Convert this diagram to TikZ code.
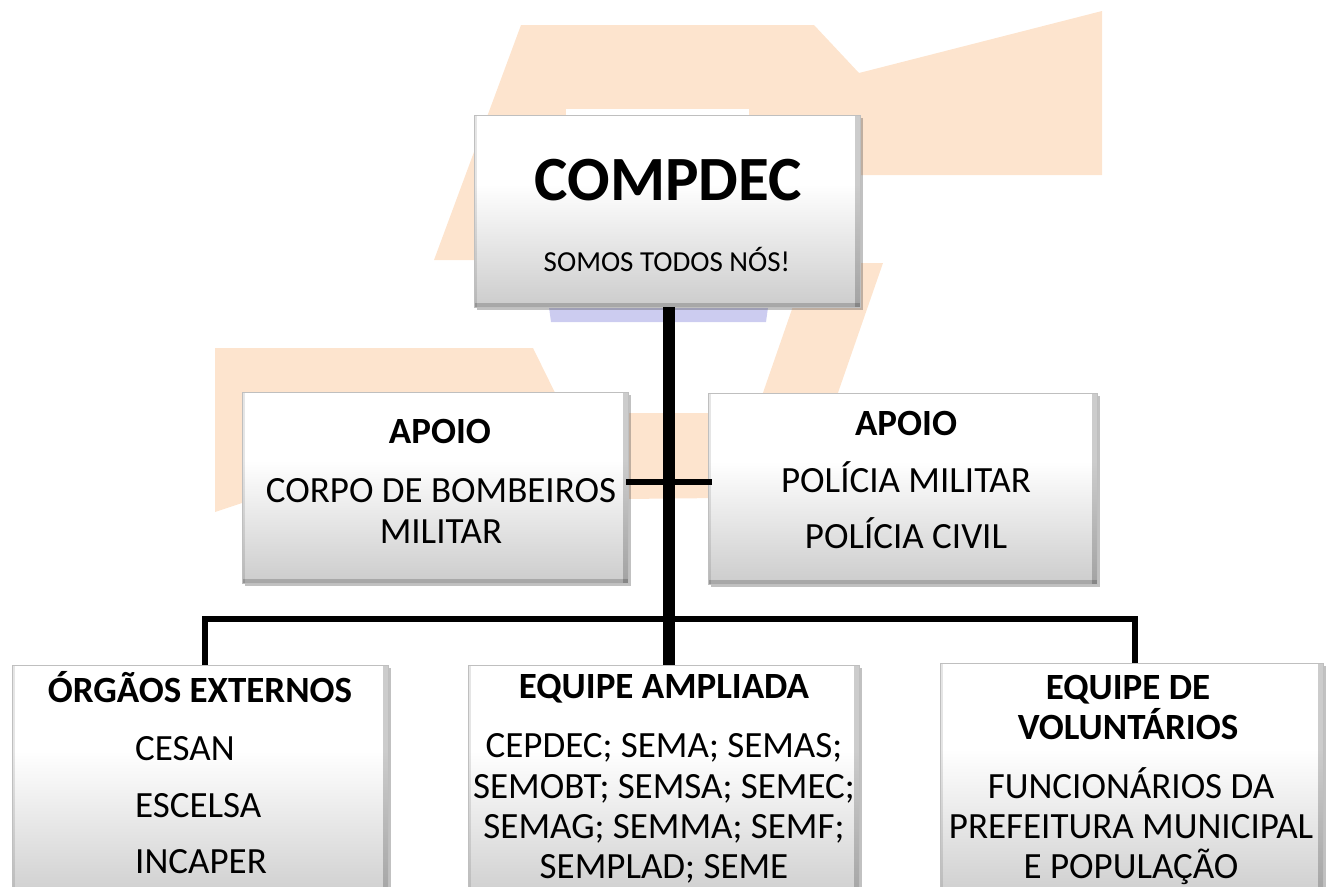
\documentclass[tikz,border=0pt]{standalone}
\usepackage{fontspec}
\setmainfont{Carlito}
\usetikzlibrary{shadows}
\definecolor{bgorange}{RGB}{253,228,206}
\definecolor{bglav}{RGB}{204,204,240}
\definecolor{boxbot}{RGB}{204,204,204}
\pgfdeclareverticalshading{boxshade}{100bp}{color(0bp)=(boxbot); color(25bp)=(boxbot); color(57bp)=(white); color(100bp)=(white)}
\tikzset{
  bgshape/.style={fill=bgorange, draw=none},
  orgbox/.style={rectangle, anchor=north west, inner sep=0pt, outer sep=0pt,
    shading=boxshade, draw=gray!50, line width=0.8pt,
    drop shadow={shadow xshift=2.5pt, shadow yshift=-3pt, opacity=0.35, fill=black!70},
    path picture={
      \fill[black, opacity=0.10] (path picture bounding box.north west) rectangle ([xshift=3pt]path picture bounding box.south west);
      \fill[black, opacity=0.20] ([xshift=-5pt]path picture bounding box.north east) rectangle (path picture bounding box.south east);
      \fill[black, opacity=0.18] ([yshift=4pt]path picture bounding box.south west) rectangle (path picture bounding box.south east);
    }},
  trunkline/.style={line width=12pt, black},
  barline/.style={line width=6pt, black, line join=miter},
  bodytxt/.style={anchor=base, inner sep=0pt, font=\fontsize{37}{40}\selectfont},
  headtxt/.style={anchor=base, inner sep=0pt, font=\bfseries\fontsize{37}{40}\selectfont},
  itemtxt/.style={anchor=base west, inner sep=0pt, font=\fontsize{37}{40}\selectfont},
}
\begin{document}
\begin{tikzpicture}[x=1pt,y=-1pt]
\useasboundingbox (0,0) rectangle (1329,886);
\begin{scope}
\clip (0,0) rectangle (1329,886);
% background decoration
\fill[bgshape] (521,25) -- (814,25) -- (859,73) -- (1102,11) -- (1102,175) -- (620,175) -- (620,260) -- (434,260) -- cycle;
\fill[bgshape] (808,263) -- (883,263) -- (832,410) -- (757,410) -- cycle;
\fill[bgshape] (215,348) -- (533,348) -- (565,413) -- (720,413) -- (720,498) -- (242,503) -- (215,512) -- cycle;
\fill[white] (566,109) rectangle (749,118);
\fill[bglav] (548,300) -- (769,300) -- (766,322) -- (551,322) -- cycle;
% boxes
\node[orgbox, minimum width=386, minimum height=192] (top) at (474,115) {};
\node[orgbox, minimum width=386, minimum height=191] (apl) at (242,392) {};
\node[orgbox, minimum width=389, minimum height=191] (apr) at (708,393) {};
\node[orgbox, minimum width=376, minimum height=240] (lft) at (12,665) {};
\node[orgbox, minimum width=391, minimum height=240] (mid) at (468,665) {};
\node[orgbox, minimum width=383, minimum height=240] (rgt) at (940,663) {};
% connectors
\coordinate (tx) at (669,0);
\coordinate (bl) at (204.5,618.5);
\coordinate (br) at (1135,618.5);
\coordinate (hy) at (0,481.5);
\draw[trunkline] (top.south -| tx) -- (mid.north -| tx);
\draw[barline] (lft.north -| bl) -- (bl) -- (br) -- (rgt.north -| br);
\draw[barline, shorten <=-2pt, shorten >=-4pt] (apl.east |- hy) -- (apr.west |- hy);
% texts
\node[headtxt, font=\bfseries\fontsize{63}{70}\selectfont] (t1) at (668,200) {COMPDEC};
\node[bodytxt, font=\fontsize{29}{32}\selectfont] (t2) at (667,271) {SOMOS TODOS NÓS!};
\node[headtxt] (al1) at (440,443) {APOIO};
\node[bodytxt] (al2) at (441,502) {CORPO DE BOMBEIROS};
\node[bodytxt] (al3) at (441,543) {MILITAR};
\node[headtxt] (ar1) at (906,435) {APOIO};
\node[bodytxt] (ar2) at (906,492) {POLÍCIA MILITAR};
\node[bodytxt] (ar3) at (906,548) {POLÍCIA CIVIL};
\node[headtxt] (l1) at (200,702) {ÓRGÃOS EXTERNOS};
\node[itemtxt] (l2) at (135,760) {CESAN};
\node[itemtxt] (l3) at (135,817) {ESCELSA};
\node[itemtxt] (l4) at (135,873) {INCAPER};
\node[headtxt] (m1) at (664,698) {EQUIPE AMPLIADA};
\node[bodytxt] (m2) at (664,757) {CEPDEC; SEMA; SEMAS;};
\node[bodytxt] (m3) at (664,798) {SEMOBT; SEMSA; SEMEC;};
\node[bodytxt] (m4) at (664,838) {SEMAG; SEMMA; SEMF;};
\node[bodytxt] (m5) at (664,878) {SEMPLAD; SEME};
\node[headtxt] (r1) at (1128,699) {EQUIPE DE};
\node[headtxt] (r2) at (1128,739) {VOLUNTÁRIOS};
\node[bodytxt] (r3) at (1131,798) {FUNCIONÁRIOS DA};
\node[bodytxt] (r4) at (1131,838) {PREFEITURA MUNICIPAL};
\node[bodytxt] (r5) at (1131,878) {E POPULAÇÃO};
\end{scope}
\end{tikzpicture}
\end{document}
